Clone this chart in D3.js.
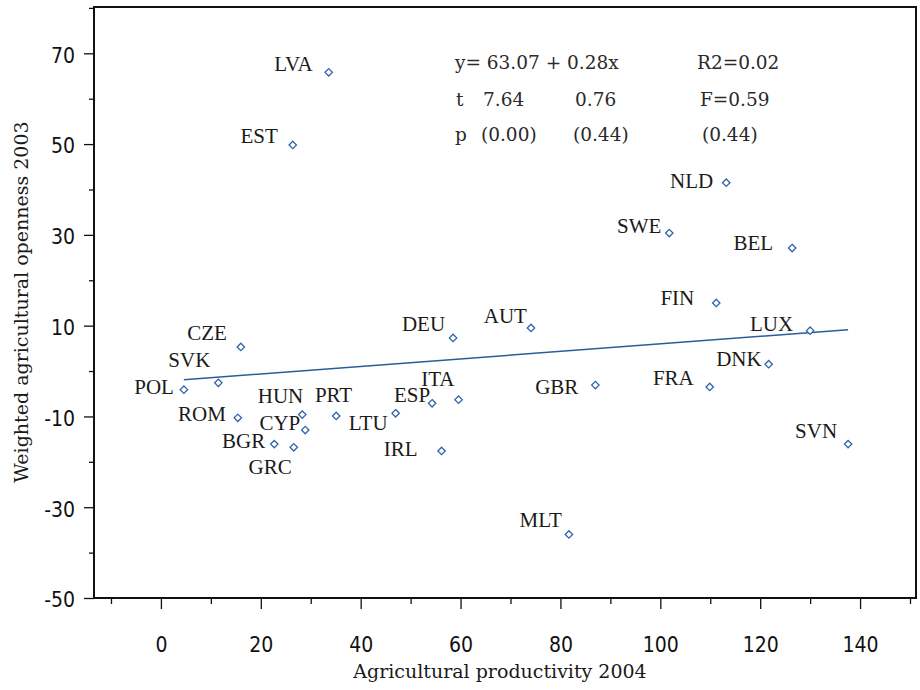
<!DOCTYPE html>
<html>
<head>
<meta charset="utf-8">
<script src="https://cdn.jsdelivr.net/npm/d3@7"></script>
<style>
  body { margin: 0; background: #fff; }
  .tick text { font-family: "Liberation Sans Narrow", "DejaVu Sans Condensed", sans-serif; font-size: 21px; fill: #111; }
  .lbl { font-family: "Liberation Serif", serif; font-size: 21px; fill: #1a1a1a; }
  .stat { font-family: "DejaVu Serif", serif; font-size: 18.5px; fill: #2a2a2a; }
  .title { font-family: "DejaVu Serif", serif; font-size: 19px; fill: #1a1a1a; }
</style>
</head>
<body>
<script>
// DATA
const countries = ["LVA", "EST", "CZE", "DEU", "NLD", "SWE", "BEL", "FIN", "AUT", "LUX",
  "SVK", "POL", "ROM", "HUN", "PRT", "CYP", "LTU", "ESP", "ITA", "BGR", "GRC", "IRL",
  "GBR", "FRA", "DNK", "SVN", "MLT"];
const productivity = [33.6, 26.4, 16.0, 58.5, 113.2, 101.8, 126.4, 111.2, 74.1, 130.0,
  11.5, 4.6, 15.4, 28.3, 35.1, 28.9, 47.0, 54.3, 59.6, 22.7, 26.6, 56.2,
  87.0, 109.9, 121.7, 137.6, 81.7];
const openness = [65.8, 49.8, 5.3, 7.3, 41.5, 30.4, 27.1, 15.0, 9.5, 8.9,
  -2.6, -4.1, -10.3, -9.6, -9.9, -13.0, -9.3, -7.1, -6.3, -16.1, -16.8, -17.6,
  -3.1, -3.5, 1.5, -16.1, -36.0];

// fitted line as drawn
const fitIntercept = -2.3;
const fitSlope = 0.083;

// tick labels
const xTicks = [0, 20, 40, 60, 80, 100, 120, 140];
const xMinor = [-10, 10, 30, 50, 70, 90, 110, 130, 150];
const yTicks = [-50, -30, -10, 10, 30, 50, 70];
const yMinor = [-40, -20, 0, 20, 40, 60, 80];

// regression text
const statRows = [
  ["y= 63.07 + 0.28x", "R2=0.02"],
  ["t", "7.64", "0.76", "F=0.59"],
  ["p", "(0.00)", "(0.44)", "(0.44)"]
];

// label nudges (text end offset, baseline offset) in px
const labelNudge = {
  LVA: [-16, -1], EST: [-15, -2], CZE: [-14, -7], DEU: [-8, -7], NLD: [-13, 5],
  SWE: [-8, 0], BEL: [-19, 2], FIN: [-22, 2], AUT: [-4, -5], LUX: [-17, 0],
  SVK: [-8, -16], POL: [-10, 4], ROM: [-12, 3], HUN: [1, -12], PRT: [16, -14],
  CYP: [-5, 0], LTU: [-8, 17], ESP: [-2, -1], ITA: [-4, -14], BGR: [-9, 4],
  GRC: [-2, 27], IRL: [-24, 5], GBR: [-17, 9], FRA: [-16, -2], DNK: [-7, 2],
  SVN: [-11, -6], MLT: [-7, -7]
};

// D3
const svg = d3.select("body").append("svg")
  .attr("width", 920)
  .attr("height", 690);

const margin = {top: 7, right: 4, bottom: 92, left: 94};
const width = 920 - margin.left - margin.right;
const height = 690 - margin.top - margin.bottom;

const g = svg.append("g")
  .attr("transform", "translate(" + margin.left + "," + margin.top + ")");

const x = d3.scaleLinear().domain([-13.4, 151.2]).range([0, width]);
const y = d3.scaleLinear().domain([-50, 80.2]).range([height, 0]);

const fmt = d => String(d);

// y axis
g.append("g").attr("class", "axis")
  .call(d3.axisLeft(y).tickValues(yTicks).tickSize(10).tickSizeOuter(0).tickPadding(9).tickFormat(fmt))
  .call(a => a.select(".domain").remove())
  .call(a => a.selectAll("text").attr("dy", "0.42em"));
g.append("g")
  .call(d3.axisLeft(y).tickValues(yMinor).tickSize(5).tickSizeOuter(0).tickFormat(""))
  .call(a => a.select(".domain").remove());

// x axis
g.append("g").attr("transform", "translate(0," + height + ")")
  .call(d3.axisBottom(x).tickValues(xTicks).tickSize(11).tickSizeOuter(0).tickPadding(28).tickFormat(fmt))
  .call(a => a.select(".domain").remove());
g.append("g").attr("transform", "translate(0," + height + ")")
  .call(d3.axisBottom(x).tickValues(xMinor).tickSize(6).tickSizeOuter(0).tickFormat(""))
  .call(a => a.select(".domain").remove());

g.selectAll(".tick line").attr("stroke", "#111").attr("stroke-width", 1.3);

// frame
g.append("rect")
  .attr("width", width)
  .attr("height", height)
  .attr("fill", "none")
  .attr("stroke", "#111")
  .attr("stroke-width", 2);

// fitted line
const xr = d3.extent(productivity);
g.append("path")
  .datum(xr)
  .attr("d", d3.line().x(d => x(d)).y(d => y(fitIntercept + fitSlope * d)))
  .attr("stroke", "#2b5d9c")
  .attr("stroke-width", 1.5)
  .attr("fill", "none");

// points
const pts = countries.map((c, i) => ({c: c, x: productivity[i], y: openness[i]}));

g.selectAll(".pt").data(pts).enter()
  .append("path")
  .attr("class", "pt")
  .attr("d", "M0,-3.7L3.7,0L0,3.7L-3.7,0Z")
  .attr("transform", d => "translate(" + x(d.x) + "," + y(d.y) + ")")
  .attr("fill", "#fff")
  .attr("stroke", "#2f64a8")
  .attr("stroke-width", 1.3);

g.selectAll(".lbl").data(pts).enter()
  .append("text")
  .attr("class", "lbl")
  .attr("text-anchor", "end")
  .attr("x", d => x(d.x) + labelNudge[d.c][0])
  .attr("y", d => y(d.y) + labelNudge[d.c][1])
  .text(d => d.c);

// stats text
const statX = [[455, 697], [456, 483, 575, 700], [455, 481, 573, 702]];
const statY = [68.5, 105.5, 140.5];
statRows.forEach((row, r) => {
  row.forEach((t, k) => {
    svg.append("text").attr("class", "stat")
      .attr("x", statX[r][k]).attr("y", statY[r])
      .text(t);
  });
});

// axis titles
svg.append("text").attr("class", "title")
  .attr("text-anchor", "middle")
  .attr("x", 500)
  .attr("y", 678)
  .text("Agricultural productivity 2004");

svg.append("text").attr("class", "title")
  .attr("text-anchor", "middle")
  .attr("transform", "translate(28,302) rotate(-90)")
  .text("Weighted agricultural openness 2003");
</script>
</body>
</html>
